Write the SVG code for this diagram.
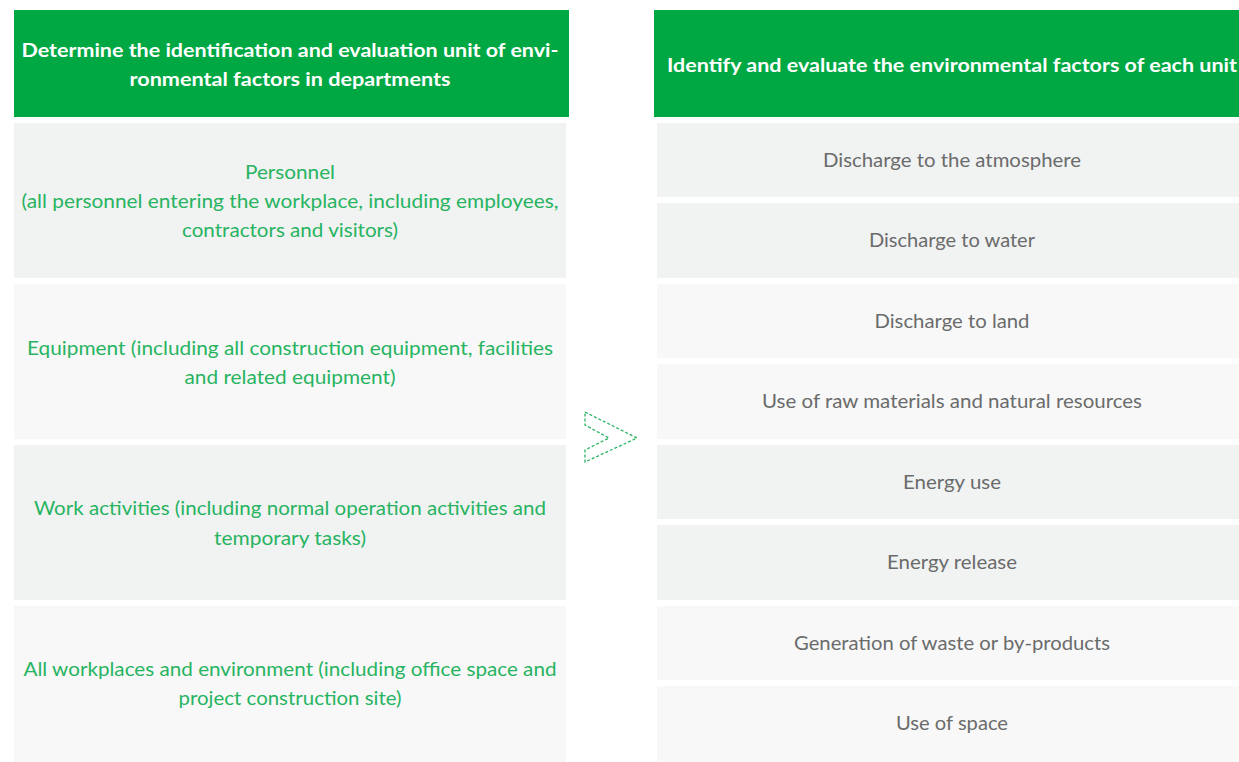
<svg xmlns="http://www.w3.org/2000/svg" width="1239" height="762" viewBox="0 0 1239 762">
<style>
.hdr{fill:#00a843}
.c1{fill:#f1f2f2}
.c2{fill:#f8f8f8}
.ht{font-family:Lato,"Open Sans",sans-serif;font-size:19px;font-weight:bold;fill:#ffffff;text-anchor:middle}
.gt{font-family:Lato,"Open Sans",sans-serif;font-size:19px;font-weight:normal;fill:#27b461;text-anchor:middle}
.rt{font-family:Lato,"Open Sans",sans-serif;font-size:19px;font-weight:normal;fill:#6a6b6b;text-anchor:middle}
.arr{fill:none;stroke:#27b461;stroke-width:1.3;stroke-dasharray:3 2}
</style>
<rect width="1239" height="762" fill="#ffffff"/>
<g id="left-header">
<rect class="hdr" x="14" y="10" width="555" height="107"/>
<text class="ht" x="290" y="57" textLength="537" lengthAdjust="spacingAndGlyphs">Determine the identification and evaluation unit of envi-</text>
<text class="ht" x="290" y="86" textLength="321" lengthAdjust="spacingAndGlyphs">ronmental factors in departments</text>
</g>
<g id="left-personnel">
<rect class="c1" x="14" y="123" width="552" height="155"/>
<text class="gt" x="290" y="179" textLength="90" lengthAdjust="spacingAndGlyphs">Personnel</text>
<text class="gt" x="290" y="208" textLength="537" lengthAdjust="spacingAndGlyphs">(all personnel entering the workplace, including employees,</text>
<text class="gt" x="290" y="237" textLength="216" lengthAdjust="spacingAndGlyphs">contractors and visitors)</text>
</g>
<g id="left-equipment">
<rect class="c2" x="14" y="284" width="552" height="155"/>
<text class="gt" x="290" y="355" textLength="526" lengthAdjust="spacingAndGlyphs">Equipment (including all construction equipment, facilities</text>
<text class="gt" x="290" y="384" textLength="211" lengthAdjust="spacingAndGlyphs">and related equipment)</text>
</g>
<g id="left-activities">
<rect class="c1" x="14" y="445" width="552" height="155"/>
<text class="gt" x="290" y="515" textLength="512" lengthAdjust="spacingAndGlyphs">Work activities (including normal operation activities and</text>
<text class="gt" x="290" y="545" textLength="152" lengthAdjust="spacingAndGlyphs">temporary tasks)</text>
</g>
<g id="left-workplaces">
<rect class="c2" x="14" y="606" width="552" height="156"/>
<text class="gt" x="290" y="676" textLength="533" lengthAdjust="spacingAndGlyphs">All workplaces and environment (including office space and</text>
<text class="gt" x="290" y="705" textLength="223" lengthAdjust="spacingAndGlyphs">project construction site)</text>
</g>
<g id="connectors">
<polygon class="arr" points="585,412 637,438 585,462 585,450 609,438 585,425"/>
</g>
<g id="right-header">
<rect class="hdr" x="654" y="10" width="585" height="107"/>
<text class="ht" x="952" y="72" textLength="570" lengthAdjust="spacingAndGlyphs">Identify and evaluate the environmental factors of each unit</text>
</g>
<g id="right-atmosphere">
<rect class="c1" x="657" y="123" width="582" height="74"/>
<text class="rt" x="952" y="167" textLength="258" lengthAdjust="spacingAndGlyphs">Discharge to the atmosphere</text>
</g>
<g id="right-water">
<rect class="c1" x="657" y="203" width="582" height="75"/>
<text class="rt" x="952" y="247" textLength="166" lengthAdjust="spacingAndGlyphs">Discharge to water</text>
</g>
<g id="right-land">
<rect class="c2" x="657" y="284" width="582" height="74"/>
<text class="rt" x="952" y="328" textLength="155" lengthAdjust="spacingAndGlyphs">Discharge to land</text>
</g>
<g id="right-raw">
<rect class="c2" x="657" y="364" width="582" height="75"/>
<text class="rt" x="952" y="408" textLength="380" lengthAdjust="spacingAndGlyphs">Use of raw materials and natural resources</text>
</g>
<g id="right-energy-use">
<rect class="c1" x="657" y="445" width="582" height="74"/>
<text class="rt" x="952" y="489" textLength="98" lengthAdjust="spacingAndGlyphs">Energy use</text>
</g>
<g id="right-energy-release">
<rect class="c1" x="657" y="525" width="582" height="75"/>
<text class="rt" x="952" y="569" textLength="130" lengthAdjust="spacingAndGlyphs">Energy release</text>
</g>
<g id="right-waste">
<rect class="c2" x="657" y="606" width="582" height="74"/>
<text class="rt" x="952" y="650" textLength="316" lengthAdjust="spacingAndGlyphs">Generation of waste or by-products</text>
</g>
<g id="right-space">
<rect class="c2" x="657" y="686" width="582" height="76"/>
<text class="rt" x="952" y="730" textLength="112" lengthAdjust="spacingAndGlyphs">Use of space</text>
</g>
</svg>
